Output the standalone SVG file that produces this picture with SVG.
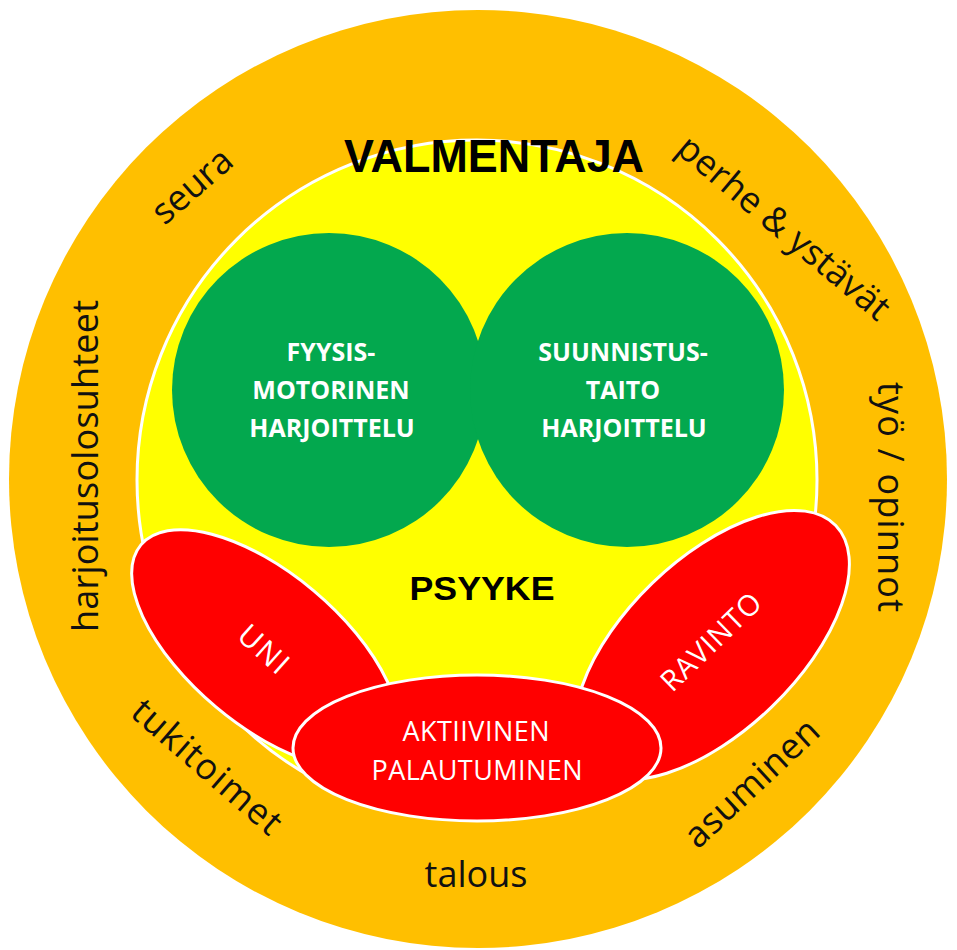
<svg xmlns="http://www.w3.org/2000/svg" width="957" height="950" viewBox="0 0 957 950">
  <style>
    .outer { font-family: "Open Sans", "Noto Sans", sans-serif; font-size: 36px; fill: #111111; }
    .green { font-family: "Open Sans", "Noto Sans", sans-serif; font-size: 25px; font-weight: bold; fill: #ffffff; text-anchor: middle; }
    .red { font-family: "Open Sans", "Noto Sans", sans-serif; fill: #ffffff; text-anchor: middle; }
    .title { font-family: "Liberation Sans", Arial, sans-serif; font-weight: bold; fill: #000000; text-anchor: middle; }
    .redshape { fill: #FF0000; stroke: #ffffff; stroke-width: 3; }
    .greenshape { fill: #03A84E; }
  </style>
  <rect width="957" height="950" fill="#ffffff"/>
  <g id="ring">
    <circle cx="478" cy="479" r="469" fill="#FFBF00"/>
  </g>
  <g id="core">
    <circle cx="477" cy="480" r="340" fill="#FFFF00" stroke="#ffffff" stroke-width="3"/>
  </g>
  <g id="fyysis">
    <circle class="greenshape" cx="329" cy="390" r="157"/>
    <text class="green" x="331" y="361">FYYSIS-</text>
    <text class="green" x="331" y="399">MOTORINEN</text>
    <text class="green" x="332" y="437">HARJOITTELU</text>
  </g>
  <g id="suunnistus">
    <circle class="greenshape" cx="627" cy="390" r="157"/>
    <text class="green" x="623" y="361">SUUNNISTUS-</text>
    <text class="green" x="623" y="399">TAITO</text>
    <text class="green" x="624" y="437">HARJOITTELU</text>
  </g>
  <g id="uni">
    <ellipse class="redshape" cx="265" cy="649" rx="162" ry="76" transform="rotate(40 265 649)"/>
    <text class="red" font-size="30" letter-spacing="2" transform="translate(264 650) rotate(42)" x="0" y="10">UNI</text>
  </g>
  <g id="ravinto">
    <ellipse class="redshape" cx="712" cy="645" rx="172" ry="86" transform="rotate(-44 712 645)"/>
    <text class="red" font-size="29" transform="translate(711 642) rotate(-44)" x="0" y="10" textLength="127" lengthAdjust="spacing">RAVINTO</text>
  </g>
  <g id="aktiivinen">
    <ellipse class="redshape" cx="477" cy="748" rx="184" ry="73"/>
    <text class="red" font-size="27" x="476" y="741" textLength="147" lengthAdjust="spacing">AKTIIVINEN</text>
    <text class="red" font-size="27" x="477" y="780" textLength="211" lengthAdjust="spacing">PALAUTUMINEN</text>
  </g>
  <g id="valmentaja">
    <text class="title" font-size="46" x="494" y="172" textLength="300" lengthAdjust="spacingAndGlyphs">VALMENTAJA</text>
  </g>
  <g id="psyyke">
    <text class="title" font-size="33" x="482" y="600" textLength="145" lengthAdjust="spacingAndGlyphs">PSYYKE</text>
  </g>
  <g id="outer-labels">
    <text class="outer" text-anchor="middle" transform="translate(200 195) rotate(-41)">seura</text>
    <text class="outer" text-anchor="middle" transform="translate(776 237) rotate(40)" textLength="265" lengthAdjust="spacing">perhe &amp; ystävät</text>
    <text class="outer" text-anchor="middle" transform="translate(98 466) rotate(-90)" textLength="332" lengthAdjust="spacing">harjoitusolosuhteet</text>
    <text class="outer" text-anchor="middle" transform="translate(878 497) rotate(90)" textLength="230" lengthAdjust="spacing">työ / opinnot</text>
    <text class="outer" text-anchor="middle" transform="translate(199 776) rotate(41)" textLength="186" lengthAdjust="spacing">tukitoimet</text>
    <text class="outer" text-anchor="middle" transform="translate(760 792) rotate(-43)" textLength="170" lengthAdjust="spacing">asuminen</text>
    <text class="outer" text-anchor="middle" x="476" y="887">talous</text>
  </g>
  <g id="connectors"></g>
</svg>
